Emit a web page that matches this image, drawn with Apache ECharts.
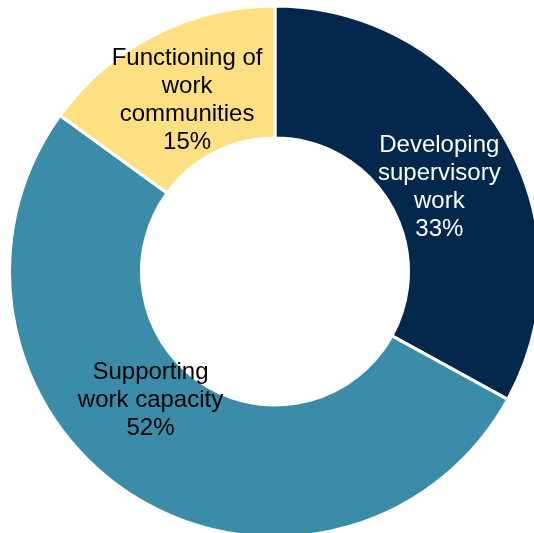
<!DOCTYPE html>
<html>
<head>
<meta charset="utf-8">
<script src="https://cdn.jsdelivr.net/npm/echarts@6/dist/echarts.min.js"></script>
<style>
  html, body { margin: 0; padding: 0; background: #ffffff; }
  #chart { width: 534px; height: 533px; }
</style>
</head>
<body>
<div id="chart"></div>
<script>
// Share of development focus areas
const categories = [
  'Developing\nsupervisory\nwork',
  'Supporting\nwork capacity',
  'Functioning of\nwork\ncommunities'
];
const shares = [33, 52, 15];

const sliceColors = ['#03284b', '#3b8ca8', '#fedf82'];
const labelColors = ['#ffffff', '#000000', '#000000'];
// nudges from the default in-ring label anchor
const labelShift = [[-10, 19], [-16, -42], [4, 9]];

const chart = echarts.init(document.getElementById('chart'), null, { renderer: 'canvas' });

chart.setOption({
  animation: false,
  backgroundColor: '#ffffff',
  series: [{
    type: 'pie',
    center: [275, 271.5],
    radius: [133.5, 265.5],
    startAngle: 90,
    clockwise: true,
    percentPrecision: 0,
    avoidLabelOverlap: false,
    itemStyle: { borderColor: '#ffffff', borderWidth: 3 },
    label: {
      show: true,
      position: 'inside',
      formatter: '{b}\n{d}%',
      fontFamily: '"Liberation Sans", Arial, sans-serif',
      fontSize: 24,
      lineHeight: 28,
      align: 'center'
    },
    labelLine: { show: false },
    emphasis: { disabled: true },
    labelLayout: function (params) {
      const s = labelShift[params.dataIndex];
      return { dx: s[0], dy: s[1] };
    },
    data: categories.map(function (name, i) {
      return {
        name: name,
        value: shares[i],
        itemStyle: { color: sliceColors[i] },
        label: { color: labelColors[i] }
      };
    })
  }]
});
</script>
</body>
</html>
